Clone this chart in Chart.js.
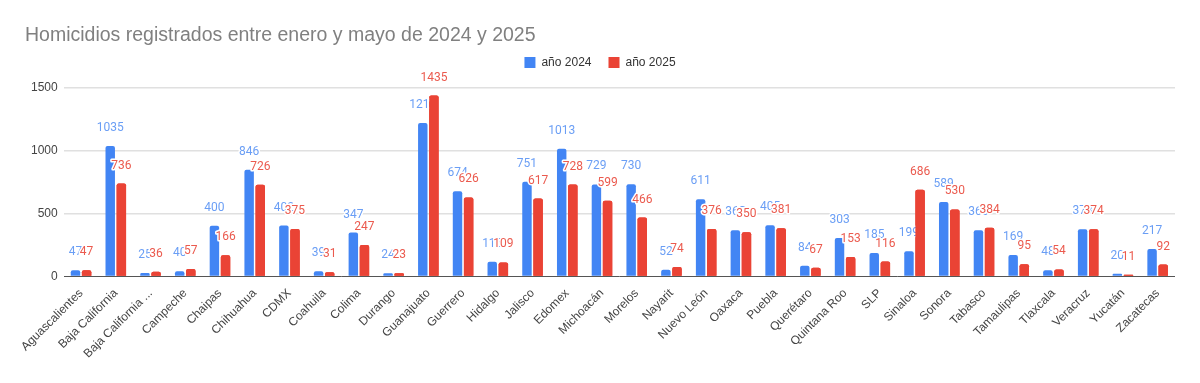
<!DOCTYPE html>
<html>
<head>
<meta charset="utf-8">
<script src="https://cdn.jsdelivr.net/npm/chart.js@4.4.1/dist/chart.umd.min.js"></script>
<style>
  html, body { margin: 0; padding: 0; background: #fff; }
  #wrap { width: 1200px; height: 383px; position: relative; }
</style>
</head>
<body>
<div id="wrap"><canvas id="chart" width="1200" height="383"></canvas></div>
<script>
// Data
const estados = ['Aguascalientes', 'Baja California', 'Baja California ...', 'Campeche', 'Chaipas',
  'Chihuahua', 'CDMX', 'Coahuila', 'Colima', 'Durango', 'Guanajuato', 'Guerrero', 'Hidalgo',
  'Jalisco', 'Edomex', 'Michoacán', 'Morelos', 'Nayarit', 'Nuevo León', 'Oaxaca', 'Puebla',
  'Querétaro', 'Quintana Roo', 'SLP', 'Sinaloa', 'Sonora', 'Tabasco', 'Tamaulipas', 'Tlaxcala',
  'Veracruz', 'Yucatán', 'Zacatecas'];
const homicidios2024 = [47, 1035, 25, 40, 400, 846, 402, 39, 347, 24, 1217, 674, 115, 751, 1013,
  729, 730, 52, 611, 365, 405, 84, 303, 185, 199, 589, 366, 169, 48, 373, 20, 217];
const homicidios2025 = [47, 736, 36, 57, 166, 726, 375, 31, 247, 23, 1435, 626, 109, 617, 728,
  599, 466, 74, 376, 350, 381, 67, 153, 116, 686, 530, 384, 95, 54, 374, 11, 92];
const yTicks = [0, 500, 1000, 1500];

const labelColors = ['#6a9ef5', '#eb5a4e'];
const FONT = "'Liberation Sans', Arial, sans-serif";

function drawLabels(chart, index) {
  const ctx = chart.ctx;
  const ds = chart.data.datasets[index];
  ctx.save();
  ctx.font = '12px Roboto';
  ctx.textAlign = 'center';
  ctx.textBaseline = 'middle';
  ctx.lineJoin = 'round';
  chart.getDatasetMeta(index).data.forEach((bar, i) => {
    const txt = String(ds.data[i]);
    const y = bar.y - 18;
    ctx.strokeStyle = '#fff';
    ctx.lineWidth = 3;
    ctx.strokeText(txt, bar.x, y);
    ctx.fillStyle = labelColors[index];
    ctx.fillText(txt, bar.x, y);
  });
  ctx.restore();
}

// value labels: blue ones first, then the red bars go over them, then red labels
const valueLabels = {
  id: 'valueLabels',
  afterDatasetsDraw(chart) {
    drawLabels(chart, 0);
    const area = chart.chartArea;
    chart.ctx.save();
    chart.getDatasetMeta(1).data.forEach(bar => bar.draw(chart.ctx, area));
    chart.ctx.restore();
    drawLabels(chart, 1);
  }
};

// a bit more room under the legend
const legendMargin = {
  id: 'legendMargin',
  beforeInit(chart) {
    const fit = chart.legend.fit;
    chart.legend.fit = function () {
      fit.call(this);
      this.height += 9;
    };
  }
};

new Chart(document.getElementById('chart'), {
  type: 'bar',
  data: {
    labels: estados,
    datasets: [
      {
        label: 'año 2024',
        data: homicidios2024,
        backgroundColor: '#4285f4',
        barPercentage: 0.85,
        categoryPercentage: 0.64,
        borderRadius: { topLeft: 2, topRight: 2 },
        borderSkipped: 'bottom'
      },
      {
        label: 'año 2025',
        data: homicidios2025,
        backgroundColor: '#ea4335',
        barPercentage: 0.85,
        categoryPercentage: 0.64,
        borderRadius: { topLeft: 2, topRight: 2 },
        borderSkipped: 'bottom'
      }
    ]
  },
  options: {
    responsive: false,
    animation: false,
    devicePixelRatio: 1,
    layout: { padding: { left: 25, right: 25, top: 0, bottom: 20 } },
    plugins: {
      title: {
        display: true,
        text: 'Homicidios registrados entre enero y mayo de 2024 y 2025',
        align: 'start',
        color: '#808080',
        font: { family: FONT, size: 19.5, weight: 'normal' },
        padding: { top: 24, bottom: -8, left: 27 }
      },
      legend: {
        display: true,
        position: 'top',
        align: 'center',
        labels: {
          boxWidth: 11,
          boxHeight: 11,
          color: '#333',
          font: { family: FONT, size: 12 },
          padding: 17
        }
      },
      tooltip: { enabled: false }
    },
    scales: {
      x: {
        grid: { display: false },
        border: { display: false },
        ticks: {
          color: '#444',
          font: { family: FONT, size: 12 },
          minRotation: 45,
          maxRotation: 45,
          autoSkip: false,
          padding: 2
        }
      },
      y: {
        min: 0,
        max: 1500,
        border: { display: false },
        grid: {
          color: ctx => ctx.tick.value === 0 ? '#555' : '#e0e0e0',
          lineWidth: ctx => ctx.tick.value === 0 ? 1 : 1.5,
          drawTicks: false
        },
        afterBuildTicks: axis => { axis.ticks = yTicks.map(v => ({ value: v })); },
        ticks: {
          color: '#444',
          font: { family: FONT, size: 12 },
          padding: 6,
          callback: v => String(v)
        }
      }
    }
  },
  plugins: [valueLabels, legendMargin]
});
</script>
</body>
</html>
